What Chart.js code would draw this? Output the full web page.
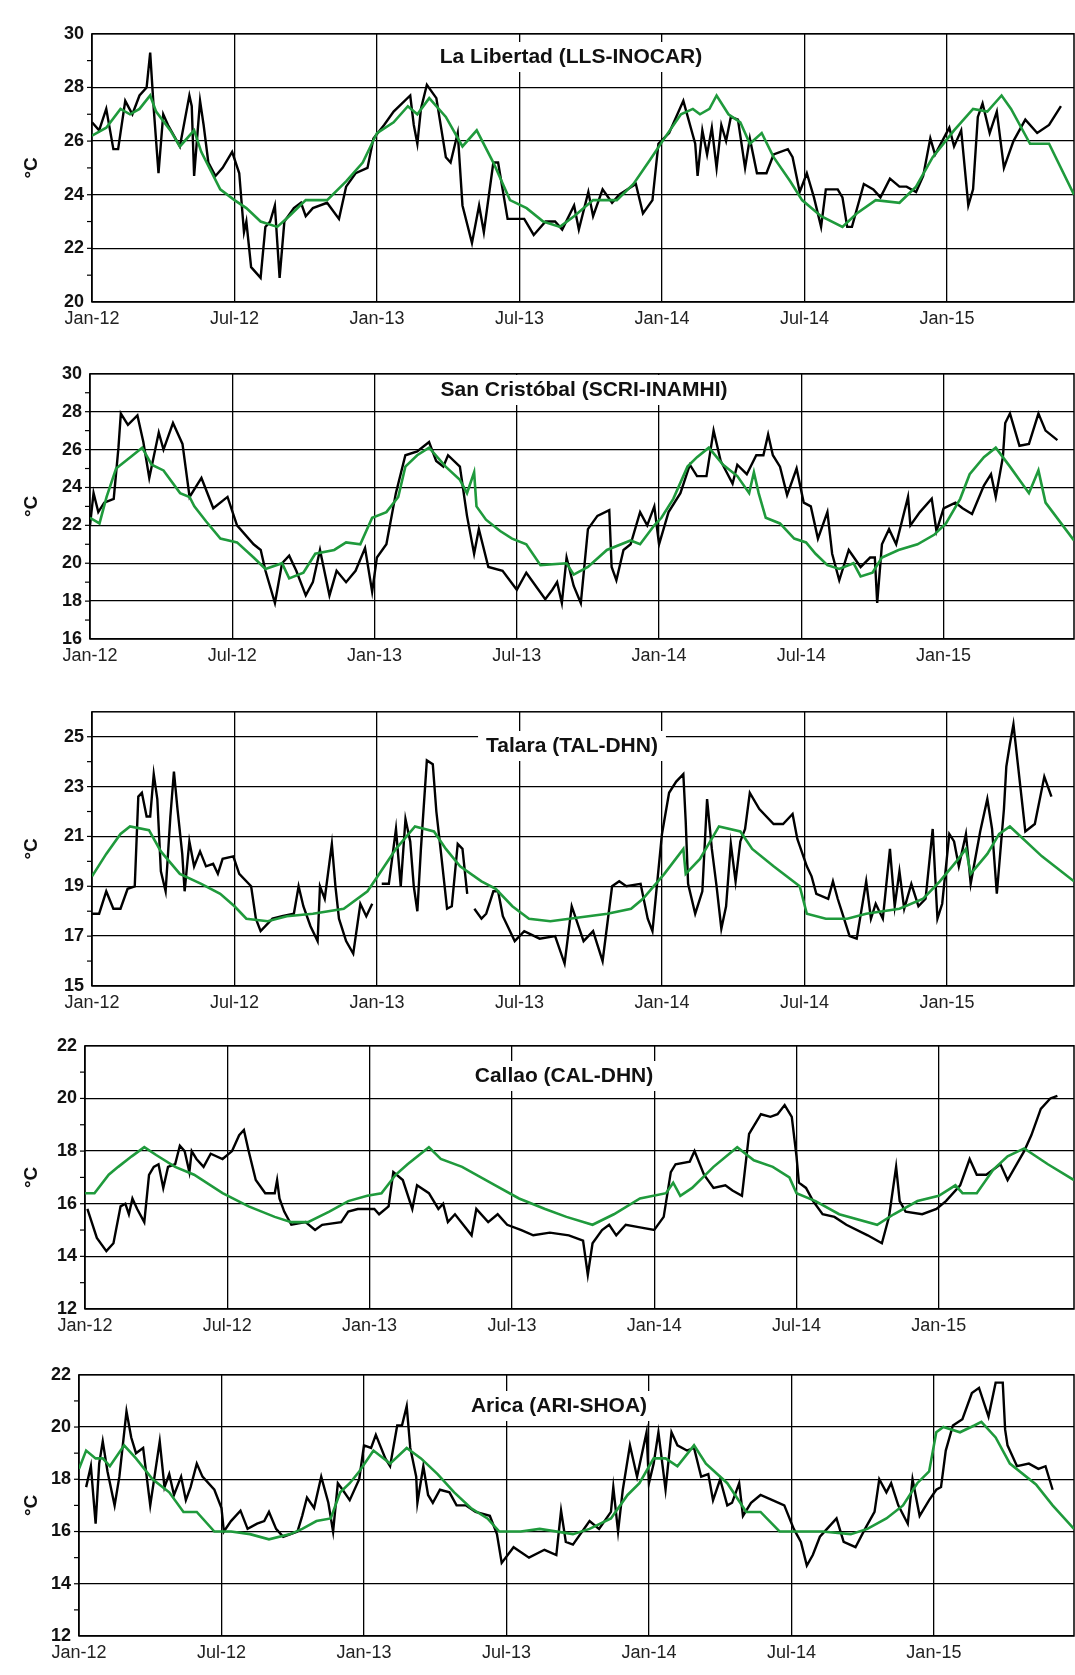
<!DOCTYPE html>
<html lang="en">
<head>
  <meta charset="UTF-8">
  <title>SST stations</title>
  <script src="https://cdn.jsdelivr.net/npm/chart.js"></script>
  <style>
    body { margin: 0; background: #fff; width: 1075px; height: 1675px; position: relative; overflow: hidden; }
    .panel { position: absolute; left: 0; }
  </style>
</head>
<body>
<div id="wrap"></div>
<script>
// months since Jan-2012
const xTickLabels = ['Jan-12', 'Jul-12', 'Jan-13', 'Jul-13', 'Jan-14', 'Jul-14', 'Jan-15'];
const xTickMonths = [0, 6, 12, 18, 24, 30, 36];

const stationNames = ['La Libertad (LLS-INOCAR)', 'San Cristóbal (SCRI-INAMHI)', 'Talara (TAL-DHN)', 'Callao (CAL-DHN)', 'Arica (ARI-SHOA)'];

// La Libertad
const libObsM = [0,0.3,0.6,0.9,1.1,1.4,1.7,2.0,2.3,2.45,2.6,2.8,3.0,3.2,3.7,4.1,4.2,4.3,4.55,4.7,4.9,5.2,5.5,5.9,6.2,6.4,6.5,6.7,7.1,7.3,7.5,7.7,7.9,8.1,8.5,8.8,9.0,9.3,9.9,10.4,10.7,11.1,11.6,11.85,12.3,12.7,13.4,13.55,13.7,13.85,14.1,14.5,14.9,15.1,15.4,15.6,16.0,16.3,16.5,16.9,17.1,17.5,18.2,18.6,19.1,19.5,19.8,20.3,20.5,20.9,21.1,21.5,21.9,22.2,22.9,23.2,23.6,23.85,24.3,24.9,25.4,25.5,25.7,25.9,26.1,26.3,26.5,26.7,26.9,27.2,27.5,27.7,28.0,28.4,28.7,29.3,29.5,29.8,30.1,30.4,30.7,30.9,31.4,31.6,31.8,32.0,32.5,32.9,33.2,33.6,34.0,34.3,34.7,35.0,35.3,35.5,36.1,36.3,36.6,36.9,37.1,37.3,37.5,37.8,38.1,38.4,38.8,39.3,39.8,40.3,40.8];
const libObsT = [26.7,26.4,27.2,25.7,25.7,27.5,27.0,27.7,28.0,29.3,27.2,24.8,27.0,26.6,25.8,27.7,27.3,24.7,27.5,26.6,25.2,24.7,25.0,25.6,24.8,22.6,23.0,21.3,20.9,22.8,23.0,23.6,20.9,23.0,23.5,23.7,23.2,23.5,23.7,23.1,24.3,24.8,25.0,26.1,26.6,27.1,27.7,26.6,25.9,27.2,28.1,27.6,25.4,25.2,26.3,23.6,22.2,23.6,22.6,25.2,25.2,23.1,23.1,22.5,23.0,23.0,22.7,23.6,22.7,24.1,23.2,24.2,23.7,24.0,24.4,23.3,23.8,25.9,26.3,27.5,25.9,24.7,26.4,25.5,26.5,25.0,26.6,26.0,26.9,26.8,25.0,26.1,24.8,24.8,25.5,25.7,25.4,24.1,24.8,23.9,22.8,24.2,24.2,23.9,22.8,22.8,24.4,24.2,23.9,24.6,24.3,24.3,24.1,24.7,26.1,25.5,26.5,25.8,26.4,23.6,24.2,26.9,27.4,26.3,27.1,25.0,26.0,26.8,26.3,26.6,27.3];
const libClimM = [0,0.6,1.2,1.6,2.0,2.45,2.7,3.3,3.7,4.3,4.6,5.4,6.0,6.5,7.1,7.8,8.3,9.0,9.9,10.7,11.4,12.0,12.7,13.3,13.7,14.2,14.9,15.6,16.2,16.9,17.6,18.3,19.0,19.7,20.3,21.1,22.1,22.8,23.5,24.1,24.8,25.3,25.6,26.0,26.3,26.8,27.3,27.7,28.2,28.7,29.4,29.9,30.7,31.6,32.2,33.0,34.0,34.7,35.4,36.3,37.1,37.7,38.3,38.7,39.5,40.3,41.35];
const libClimT = [26.2,26.5,27.2,27.0,27.2,27.7,27.1,26.4,25.8,26.4,25.6,24.2,23.8,23.5,23.0,22.8,23.2,23.8,23.8,24.5,25.2,26.3,26.7,27.3,27.0,27.6,26.9,25.8,26.4,25.2,23.8,23.5,23.0,22.8,23.2,23.8,23.8,24.4,25.3,26.1,27.0,27.2,27.0,27.2,27.7,27.0,26.7,25.9,26.3,25.4,24.5,23.8,23.2,22.8,23.3,23.8,23.7,24.3,25.4,26.4,27.2,27.1,27.7,27.2,25.9,25.9,24.0];

// San Cristobal
const scrObsM = [0,0.15,0.35,0.6,1.0,1.2,1.3,1.6,2.0,2.25,2.5,2.9,3.1,3.5,3.9,4.2,4.7,5.2,5.8,6.2,6.9,7.2,7.4,7.8,8.1,8.4,8.7,9.1,9.4,9.7,10.1,10.4,10.8,11.2,11.6,11.9,12.1,12.5,12.9,13.3,13.8,14.3,14.6,14.9,15.1,15.6,15.9,16.2,16.4,16.8,17.4,18.0,18.4,18.8,19.2,19.5,19.7,19.9,20.1,20.4,20.7,21.0,21.4,21.9,22.0,22.2,22.5,22.8,23.2,23.5,23.8,24.0,24.4,24.9,25.3,25.6,26.0,26.3,26.6,27.1,27.3,27.7,28.1,28.4,28.6,28.8,29.1,29.4,29.8,30.1,30.4,30.7,31.1,31.3,31.6,32.0,32.5,32.9,33.1,33.2,33.4,33.7,34.0,34.5,34.6,35.0,35.5,35.7,36.0,36.5,36.8,37.2,37.7,38.0,38.2,38.5,38.6,38.8,39.2,39.6,40.0,40.3,40.8];
const scrObsT = [22.0,23.7,22.7,23.2,23.4,26.1,27.9,27.3,27.8,26.4,24.5,26.9,26.0,27.4,26.3,23.5,24.5,22.9,23.5,22.0,21.0,20.7,19.6,17.9,20.0,20.4,19.6,18.3,19.0,20.7,18.3,19.6,19.0,19.6,20.8,18.5,20.3,21.0,23.7,25.7,25.9,26.4,25.4,25.1,25.7,25.1,22.5,20.5,21.8,19.8,19.6,18.6,19.5,18.8,18.1,18.6,19.0,17.9,20.3,18.8,17.9,21.8,22.5,22.8,19.8,19.1,20.7,21.0,22.7,22.0,23.0,21.0,22.7,23.7,25.2,24.6,24.6,27.0,25.4,24.2,25.2,24.7,25.7,25.7,26.8,25.7,25.1,23.6,25.0,23.2,23.0,21.3,22.7,20.5,19.1,20.7,19.8,20.3,20.3,17.9,21.0,21.8,21.0,23.5,22.0,22.7,23.4,21.7,22.9,23.2,22.9,22.6,24.1,24.7,23.5,25.6,27.4,27.9,26.2,26.3,27.9,27.0,26.5];
const scrClimM = [0,0.4,0.7,1.1,1.7,2.2,2.6,3.1,3.8,4.2,4.4,4.9,5.5,6.2,6.9,7.4,8.1,8.4,9.0,9.5,10.3,10.8,11.4,11.9,12.5,13.0,13.3,13.8,14.3,15.0,15.6,15.9,16.2,16.3,16.7,17.3,17.8,18.4,19.0,20.1,20.4,21.0,21.8,22.8,23.2,23.8,24.1,24.6,25.2,25.6,26.1,26.7,27.3,27.8,28.0,28.2,28.5,29.1,29.7,30.2,30.6,31.1,31.6,32.2,32.5,33.0,33.4,34.1,34.9,35.6,36.1,36.7,37.1,37.7,38.2,38.8,39.6,40.0,40.3,41.5];
const scrClimT = [22.4,22.1,23.5,25.0,25.6,26.1,25.2,24.9,23.7,23.5,23.0,22.2,21.3,21.1,20.3,19.7,20.0,19.2,19.5,20.5,20.7,21.1,21.0,22.4,22.7,23.5,25.1,25.7,26.1,25.1,24.4,23.7,24.8,23.0,22.3,21.7,21.3,21.0,19.9,20.0,19.4,19.8,20.7,21.2,21.0,22.0,22.4,23.4,25.1,25.6,26.1,25.2,24.6,23.7,24.8,23.7,22.4,22.1,21.3,21.1,20.5,19.9,19.7,20.0,19.3,19.5,20.3,20.7,21.0,21.5,22.1,23.4,24.7,25.6,26.1,25.1,23.7,24.9,23.2,21.2];

// Talara (null = gap in record)
const talObsM = [0,0.3,0.6,0.9,1.2,1.5,1.8,1.95,2.1,2.3,2.45,2.6,2.75,2.9,3.1,3.3,3.45,3.6,3.8,3.9,4.1,4.3,4.55,4.8,5.1,5.3,5.5,5.95,6.2,6.7,6.9,7.1,7.6,8.0,8.5,8.7,8.9,9.2,9.5,9.6,9.8,10.1,10.25,10.4,10.7,11.0,11.3,11.55,11.8,12.0,12.2,12.5,12.8,13.0,13.2,13.4,13.55,13.7,13.85,14.1,14.35,14.5,14.7,14.95,15.15,15.4,15.6,15.8,16.0,16.1,16.4,16.6,16.9,17.1,17.3,17.8,18.2,18.85,19.5,19.9,20.2,20.7,21.1,21.5,21.9,22.2,22.5,23.1,23.4,23.6,24.0,24.3,24.6,24.9,25.0,25.1,25.4,25.7,25.9,26.1,26.3,26.5,26.7,26.9,27.1,27.3,27.5,27.7,28.1,28.7,29.1,29.5,29.7,30.1,30.3,30.5,31.0,31.2,31.4,31.6,31.9,32.2,32.6,32.8,33.0,33.3,33.6,33.8,34.0,34.2,34.5,34.8,35.1,35.4,35.6,35.8,36.1,36.3,36.5,36.8,37.0,37.4,37.7,37.9,38.1,38.4,38.5,38.65,38.8,39.3,39.7,40.1,40.4];
const talObsT = [17.9,17.9,18.8,18.1,18.1,18.9,19.0,22.6,22.75,21.8,21.8,23.5,22.5,19.6,18.8,21.8,23.6,22.1,20.3,18.8,20.8,19.8,20.4,19.8,19.9,19.5,20.1,20.2,19.5,19.0,17.7,17.2,17.7,17.8,17.9,19.0,18.2,17.4,16.8,19.0,18.5,20.7,19.0,17.7,16.8,16.3,18.3,17.8,18.3,null,19.1,19.1,21.3,19.0,21.7,20.8,19.0,18.0,20.5,24.05,23.9,22.0,20.3,18.1,18.2,20.7,20.5,18.7,null,18.1,17.7,17.9,18.8,18.8,17.8,16.8,17.2,16.9,17.0,15.9,18.2,16.8,17.2,16.0,19.0,19.2,19.0,19.1,17.7,17.2,21.1,22.75,23.2,23.5,21.6,19.1,17.9,18.8,22.5,20.5,19.0,17.3,18.2,20.7,19.2,20.8,21.3,22.75,22.1,21.5,21.5,21.9,20.9,19.8,19.4,18.7,18.5,19.2,18.5,17.9,17.0,16.9,19.2,17.7,18.3,17.7,20.5,18.2,19.6,18.1,19.1,18.2,18.5,21.3,17.7,18.3,21.1,20.8,19.8,21.1,19.1,21.2,22.5,21.3,18.7,22.1,23.8,24.7,25.5,21.2,21.5,23.4,22.6];
const talClimM = [0,0.6,1.2,1.6,2.4,2.9,3.7,4.6,5.4,6.0,6.5,7.4,8.2,9.3,10.6,11.6,12.1,12.8,13.6,14.4,14.9,15.5,16.4,17.0,17.7,18.4,19.3,20.1,21.7,22.7,23.2,24.1,24.9,25.0,25.6,26.4,27.3,27.8,28.7,29.8,30.1,30.9,31.8,32.6,34.0,35.0,35.7,36.4,36.8,37.0,37.7,38.2,38.65,40.0,41.35];
const talClimT = [19.4,20.3,21.1,21.4,21.25,20.4,19.5,19.1,18.7,18.2,17.7,17.6,17.8,17.9,18.1,18.8,19.5,20.5,21.4,21.2,20.5,19.8,19.2,18.9,18.2,17.7,17.6,17.7,17.9,18.1,18.5,19.5,20.5,19.5,20.1,21.4,21.2,20.5,19.8,19.0,17.9,17.7,17.7,17.9,18.1,18.5,19.2,20.0,20.5,19.5,20.3,21.1,21.4,20.2,19.2];

// Callao
const calObsM = [0.1,0.5,0.9,1.2,1.5,1.7,1.85,2.0,2.2,2.5,2.7,2.9,3.1,3.3,3.5,3.8,4.0,4.2,4.4,4.5,4.7,5.0,5.3,5.8,6.2,6.5,6.7,6.9,7.2,7.6,8.0,8.1,8.2,8.4,8.7,9.3,9.7,10.0,10.8,11.1,11.5,12.2,12.4,12.8,13.0,13.4,13.8,14.0,14.5,14.9,15.1,15.3,15.6,16.3,16.5,17.0,17.4,17.8,18.4,18.9,19.6,20.4,21.0,21.2,21.4,21.8,22.1,22.4,22.8,23.4,24.0,24.4,24.7,24.9,25.5,25.7,26.1,26.5,27.0,27.3,27.7,28.0,28.5,28.9,29.2,29.5,29.8,30.0,30.1,30.4,30.7,31.1,31.6,32.1,33.0,33.6,33.9,34.2,34.35,34.6,35.3,35.9,36.3,36.9,37.3,37.6,38.0,38.6,38.9,39.6,39.9,40.3,40.7,41.0];
const calObsT = [15.8,14.7,14.2,14.5,15.9,16.0,15.6,16.2,15.8,15.3,17.1,17.4,17.5,16.6,17.4,17.5,18.2,18.0,17.2,18.0,17.7,17.4,17.9,17.7,18.0,18.6,18.8,18.0,16.9,16.4,16.4,16.9,16.2,15.7,15.2,15.3,15.0,15.2,15.3,15.7,15.8,15.8,15.6,15.9,17.2,16.9,15.8,16.7,16.4,15.8,16.0,15.3,15.6,14.8,15.8,15.3,15.6,15.2,15.0,14.8,14.9,14.8,14.6,13.3,14.5,15.0,15.2,14.8,15.2,15.1,15.0,15.5,17.2,17.5,17.6,18.0,17.1,16.6,16.7,16.5,16.3,18.65,19.4,19.3,19.4,19.75,19.3,17.8,16.8,16.6,16.1,15.6,15.5,15.2,14.8,14.5,15.5,17.4,16.1,15.7,15.6,15.8,16.1,16.7,17.7,17.1,17.1,17.5,16.9,18.0,18.6,19.6,20.0,20.1];
const calClimM = [0,0.4,1.0,1.4,1.97,2.5,3.0,3.8,4.6,5.8,6.9,8.0,8.7,9.4,10.3,11.1,11.9,12.5,13.1,13.6,14.5,15.0,15.9,17.3,18.3,19.4,20.3,21.4,22.3,23.4,24.5,24.8,25.1,25.6,26.5,27.5,28.2,29.0,29.7,30.0,30.8,31.8,33.4,34.1,35.1,36.0,36.7,37.0,37.6,38.3,38.9,39.6,40.6,41.7];
const calClimT = [16.4,16.4,17.1,17.4,17.8,18.15,17.85,17.4,17.1,16.4,15.9,15.5,15.3,15.3,15.7,16.1,16.3,16.4,17.1,17.5,18.15,17.7,17.4,16.7,16.2,15.8,15.5,15.2,15.6,16.2,16.4,16.8,16.3,16.6,17.4,18.15,17.65,17.4,17.0,16.4,16.1,15.6,15.2,15.6,16.1,16.3,16.7,16.4,16.4,17.3,17.8,18.1,17.5,16.9];

// Arica
const ariObsM = [0.3,0.5,0.7,0.85,1.0,1.2,1.5,1.7,2.0,2.2,2.4,2.7,3.0,3.4,3.6,3.8,4.0,4.3,4.5,4.7,4.96,5.2,5.7,6.0,6.1,6.4,6.8,7.1,7.5,7.8,8.0,8.3,8.6,9.2,9.4,9.6,9.9,10.2,10.5,10.7,10.9,11.1,11.4,11.8,12.0,12.3,12.5,12.9,13.1,13.4,13.6,13.8,13.95,14.2,14.25,14.5,14.7,14.9,15.2,15.6,15.9,16.3,16.7,17.3,17.6,17.8,18.3,18.95,19.6,20.1,20.3,20.5,20.8,21.5,21.9,22.4,22.5,22.7,22.9,23.2,23.5,23.9,24.0,24.2,24.4,24.7,24.95,25.2,25.6,25.9,26.2,26.5,26.7,27.0,27.3,27.5,27.8,27.96,28.3,28.7,29.2,29.7,30.1,30.4,30.65,30.9,31.2,31.5,31.9,32.2,32.7,33.1,33.5,33.7,34.0,34.2,34.5,34.9,35.1,35.4,35.8,36.1,36.3,36.5,36.8,37.2,37.6,37.9,38.3,38.6,38.9,39.0,39.1,39.5,40.0,40.4,40.7,41.0];
const ariObsT = [17.7,18.5,16.3,18.6,19.45,18.3,17.0,18.1,20.6,19.6,19.0,19.2,17.0,19.45,17.7,18.2,17.4,18.1,17.2,17.7,18.6,18.1,17.6,16.9,16.0,16.4,16.8,16.1,16.3,16.4,16.75,16.1,15.8,16.0,16.6,17.3,16.9,18.1,17.1,16.0,17.85,17.6,17.2,18.0,19.3,19.2,19.7,18.8,18.5,20.06,20.06,20.8,19.2,18.1,17.1,18.5,17.4,17.1,17.6,17.5,17.0,17.0,16.75,16.6,15.9,14.8,15.4,15.0,15.3,15.1,16.8,15.6,15.5,16.4,16.1,16.75,17.7,16.0,17.6,19.3,18.1,19.8,17.85,18.6,19.8,17.6,19.8,19.3,19.1,19.2,18.1,18.2,17.2,18.0,17.0,17.1,17.85,16.6,17.1,17.4,17.2,17.0,16.1,15.6,14.7,15.1,15.8,16.1,16.5,15.6,15.4,16.1,16.75,18.0,17.5,17.85,17.0,16.3,18.0,16.6,17.2,17.6,17.7,19.1,20.06,20.3,21.3,21.5,20.4,21.7,21.7,19.9,19.3,18.5,18.6,18.4,18.5,17.6];
const ariClimM = [0,0.3,0.7,1.0,1.3,1.9,2.4,3.1,3.8,4.4,4.96,5.7,6.4,7.2,8.0,8.9,9.4,10.0,10.6,11.0,11.4,11.8,12.4,13.1,13.8,14.4,15.1,15.8,16.5,17.2,17.7,18.6,19.4,20.8,21.5,22.4,23.1,23.6,24.2,24.7,25.2,25.9,26.4,27.3,28.1,28.7,29.5,30.4,31.3,32.5,33.2,34.0,34.7,35.3,35.8,36.1,36.4,37.1,37.7,38.0,38.6,39.2,40.3,41.0,41.9];
const ariClimT = [18.4,19.1,18.8,18.8,18.5,19.3,18.8,18.0,17.5,16.75,16.75,16.0,16.0,15.9,15.7,15.9,16.1,16.4,16.5,17.5,17.85,18.3,19.1,18.6,19.2,18.8,18.2,17.5,16.9,16.5,16.0,16.0,16.1,15.9,16.1,16.5,17.4,17.85,18.8,18.8,18.5,19.3,18.6,17.85,16.75,16.75,16.0,16.0,16.0,15.9,16.1,16.5,17.0,17.85,18.3,19.8,20.0,19.8,20.06,20.2,19.6,18.6,17.8,17.0,16.1];

// y tick values per panel
const yTicks1 = [20, 22, 24, 26, 28, 30];
const yTicks2 = [16, 18, 20, 22, 24, 26, 28, 30];
const yTicks3 = [15, 17, 19, 21, 23, 25];
const yTicks4 = [12, 14, 16, 18, 20, 22];
const yTicks5 = [12, 14, 16, 18, 20, 22];

// layout of each panel (pixel geometry of plot area)
const panels = [
  { name: stationNames[0], obsM: libObsM, obsT: libObsT, climM: libClimM, climT: libClimT, ticks: yTicks1, min: 20, max: 30, top: 25, bottom: 302, left: 92, xmax: 41.35, tx: 571, ty: 57 },
  { name: stationNames[1], obsM: scrObsM, obsT: scrObsT, climM: scrClimM, climT: scrClimT, ticks: yTicks2, min: 16, max: 30, top: 365, bottom: 639, left: 90, xmax: 41.5, tx: 584, ty: 390 },
  { name: stationNames[2], obsM: talObsM, obsT: talObsT, climM: talClimM, climT: talClimT, ticks: yTicks3, min: 15, max: 26, top: 703, bottom: 986, left: 92, xmax: 41.35, tx: 572, ty: 746 },
  { name: stationNames[3], obsM: calObsM, obsT: calObsT, climM: calClimM, climT: calClimT, ticks: yTicks4, min: 12, max: 22, top: 1037, bottom: 1309, left: 85, xmax: 41.7, tx: 564, ty: 1076 },
  { name: stationNames[4], obsM: ariObsM, obsT: ariObsT, climM: ariClimM, climT: ariClimT, ticks: yTicks5, min: 12, max: 22, top: 1366, bottom: 1636, left: 79, xmax: 41.9, tx: 559, ty: 1406 }
];

const PAD_TOP = 10, X_AXIS_H = 38, WIDTH = 1075;
const GREEN = '#1f9a3c';

const framePlugin = {
  id: 'frame',
  beforeDatasetsDraw(chart) {
    const a = chart.chartArea, ctx = chart.ctx;
    ctx.save();
    ctx.strokeStyle = '#000';
    ctx.lineWidth = 1.5;
    ctx.strokeRect(a.left, a.top, a.right - a.left, a.bottom - a.top);
    // minor ticks on y axis
    const y = chart.scales.y;
    ctx.lineWidth = 1.2;
    for (let v = y.min + 1; v < y.max; v += 1) {
      const py = y.getPixelForValue(v);
      ctx.beginPath(); ctx.moveTo(a.left - 5, py); ctx.lineTo(a.left, py); ctx.stroke();
    }
    ctx.restore();
  },
  afterDatasetsDraw(chart, args, opts) {
    const ctx = chart.ctx, a = chart.chartArea;
    ctx.save();
    // title box
    ctx.font = 'bold 21px "Liberation Sans", Arial, sans-serif';
    const w = ctx.measureText(opts.text).width;
    const cy = opts.ty - opts.offset;
    ctx.fillStyle = '#fff';
    ctx.fillRect(opts.tx - w / 2 - 8, cy - 15, w + 16, 30);
    ctx.fillStyle = '#111';
    ctx.textAlign = 'center';
    ctx.textBaseline = 'middle';
    ctx.fillText(opts.text, opts.tx, cy);
    // unit label
    ctx.translate(32, (a.top + a.bottom) / 2);
    ctx.rotate(-Math.PI / 2);
    ctx.font = 'bold 19px "Liberation Sans", Arial, sans-serif';
    ctx.fillText('°C', 0, 0);
    ctx.restore();
  }
};

const wrap = document.getElementById('wrap');
panels.forEach((p, i) => {
  const h = p.bottom - p.top + PAD_TOP + X_AXIS_H;
  const div = document.createElement('div');
  div.className = 'panel';
  div.style.top = (p.top - PAD_TOP) + 'px';
  div.style.width = WIDTH + 'px';
  div.style.height = h + 'px';
  const canvas = document.createElement('canvas');
  div.appendChild(canvas);
  wrap.appendChild(div);

  const obs = p.obsM.map((m, k) => ({ x: m, y: p.obsT[k] }));
  const clim = p.climM.map((m, k) => ({ x: m, y: p.climT[k] }));

  new Chart(canvas, {
    type: 'line',
    data: {
      datasets: [
        { data: clim, borderColor: GREEN, borderWidth: 2.6, pointRadius: 0, tension: 0 },
        { data: obs, borderColor: '#000', borderWidth: 2.4, pointRadius: 0, tension: 0, spanGaps: false }
      ]
    },
    options: {
      responsive: true,
      maintainAspectRatio: false,
      animation: false,
      layout: { padding: { top: PAD_TOP, right: 1, left: 0, bottom: 0 } },
      plugins: {
        legend: { display: false },
        tooltip: { enabled: false },
        frame: { text: p.name, tx: p.tx, ty: p.ty, offset: p.top - PAD_TOP }
      },
      scales: {
        x: {
          type: 'linear', min: 0, max: p.xmax,
          afterBuildTicks: s => { s.ticks = xTickMonths.map(v => ({ value: v })); },
          afterFit: s => { s.height = X_AXIS_H; },
          ticks: {
            callback: (v) => xTickLabels[xTickMonths.indexOf(v)],
            color: '#222', maxRotation: 0, autoSkip: false, padding: 6,
            font: { family: '"Liberation Sans", Arial, sans-serif', size: 18 }
          },
          grid: { color: '#000', lineWidth: 1.3, drawTicks: false },
          border: { display: false }
        },
        y: {
          min: p.min, max: p.max,
          afterBuildTicks: s => { s.ticks = p.ticks.map(v => ({ value: v })); },
          afterFit: s => { s.width = p.left; },
          ticks: {
            color: '#111', padding: 8,
            font: { family: '"Liberation Sans", Arial, sans-serif', size: 18, weight: 'bold' }
          },
          grid: { color: '#000', lineWidth: 1.3, drawTicks: false },
          border: { display: false }
        }
      }
    },
    plugins: [framePlugin]
  });
});
</script>
</body>
</html>
